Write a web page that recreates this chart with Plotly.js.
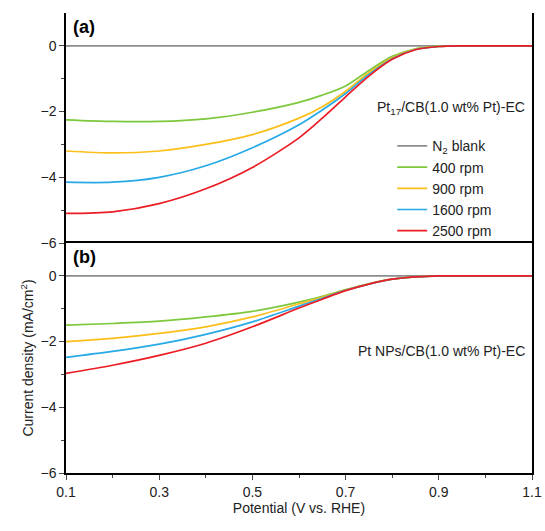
<!DOCTYPE html>
<html><head><script src="https://cdn.plot.ly/plotly-3.0.0.min.js"></script></head>
<body style="margin:0"><div id="plot" style="width:545px;height:531px"></div>
<script>
var names = ['N<sub>2</sub> blank', '400 rpm', '900 rpm', '1600 rpm', '2500 rpm'];
var colors = ['#8c8c8c', '#7dc83c', '#fbbf1a', '#27a9e6', '#ec1c24'];
var V = [0.1, 0.2, 0.3, 0.4, 0.5, 0.6, 0.65, 0.7, 0.75, 0.8, 0.85, 0.9, 0.95, 1.0, 1.1];
var topBlank = [0, 0, 0, 0, 0, 0, 0, 0, 0, 0, 0, 0, 0, 0, 0];
var top400 = [-2.25, -2.3, -2.3, -2.22, -2.02, -1.72, -1.5, -1.22, -0.75, -0.32, -0.09, -0.01, 0, 0, 0];
var top900 = [-3.2, -3.26, -3.2, -3.0, -2.7, -2.2, -1.85, -1.38, -0.82, -0.36, -0.1, -0.02, 0, 0, 0];
var top1600 = [-4.15, -4.15, -4.0, -3.65, -3.1, -2.4, -1.95, -1.45, -0.87, -0.39, -0.11, -0.02, 0, 0, 0];
var top2500 = [-5.1, -5.05, -4.8, -4.35, -3.7, -2.8, -2.2, -1.55, -0.92, -0.41, -0.12, -0.02, 0, 0, 0];
var bot400 = [-1.5, -1.45, -1.38, -1.25, -1.08, -0.8, -0.62, -0.42, -0.24, -0.1, -0.03, 0, 0, 0, 0];
var bot900 = [-2.0, -1.9, -1.75, -1.55, -1.25, -0.85, -0.65, -0.43, -0.24, -0.1, -0.03, 0, 0, 0, 0];
var bot1600 = [-2.48, -2.3, -2.08, -1.78, -1.4, -0.92, -0.68, -0.44, -0.25, -0.1, -0.03, 0, 0, 0, 0];
var bot2500 = [-2.97, -2.72, -2.42, -2.05, -1.55, -0.98, -0.71, -0.45, -0.25, -0.1, -0.03, 0, 0, 0, 0];

var topSets = [topBlank, top400, top900, top1600, top2500];
var botSets = [topBlank, bot400, bot900, bot1600, bot2500];
var data = [];
topSets.forEach(function (y, i) {
  data.push({x: V, y: y, type: 'scatter', mode: 'lines', name: names[i], line: {color: colors[i], width: 1.7, shape: 'spline', smoothing: 0.8}, xaxis: 'x', yaxis: 'y'});
});
botSets.forEach(function (y, i) {
  data.push({x: V, y: y, type: 'scatter', mode: 'lines', showlegend: false, line: {color: colors[i], width: 1.7, shape: 'spline', smoothing: 0.8}, xaxis: 'x', yaxis: 'y2'});
});

var yax = {range: [-6, 1], tickvals: [0, -2, -4, -6], ticktext: ['0', '\u22122', '\u22124', '\u22126'], ticks: 'outside', ticklen: 5, showgrid: false, zeroline: false, showline: true, linewidth: 1.5, linecolor: '#000', mirror: true, minor: {tickvals: [-1, -3, -5], ticks: 'outside', ticklen: 3}};
var layout = {
  margin: {l: 66, r: 13, t: 13, b: 58},
  font: {family: 'Arial, Liberation Sans', size: 14, color: '#222'},
  paper_bgcolor: '#fff', plot_bgcolor: '#fff',
  xaxis: {range: [0.1, 1.1], tickvals: [0.1, 0.3, 0.5, 0.7, 0.9, 1.1], ticks: 'outside', ticklen: 5, showgrid: false, zeroline: false, showline: true, linewidth: 1.5, linecolor: '#000', mirror: true, anchor: 'y2', minor: {tickvals: [0.2, 0.4, 0.6, 0.8, 1.0], ticks: 'outside', ticklen: 3},
    title: {text: 'Potential (V vs. RHE)', standoff: 4, font: {size: 14}}},
  yaxis: Object.assign({domain: [0.5, 1]}, yax),
  yaxis2: Object.assign({domain: [0, 0.5], title: {text: 'Current density (mA/cm<sup>2</sup>)', standoff: 4, font: {size: 14}}}, yax),
  legend: {x: 0.7, y: 0.745, xanchor: 'left', yanchor: 'top', bgcolor: 'rgba(0,0,0,0)', font: {size: 14}, tracegroupgap: 0},
  annotations: [
    {text: '<b>(a)</b>', x: 0.01, y: 0.995, xref: 'paper', yref: 'paper', xanchor: 'left', yanchor: 'top', showarrow: false, font: {size: 18, color: '#000'}},
    {text: '<b>(b)</b>', x: 0.01, y: 0.495, xref: 'paper', yref: 'paper', xanchor: 'left', yanchor: 'top', showarrow: false, font: {size: 18, color: '#000'}},
    {text: 'Pt<sub>17</sub>/CB(1.0 wt% Pt)-EC', x: 0.99, y: -1.9, xref: 'paper', yref: 'y', xanchor: 'right', showarrow: false, font: {size: 14}},
    {text: 'Pt NPs/CB(1.0 wt% Pt)-EC', x: 0.99, y: -2.3, xref: 'paper', yref: 'y2', xanchor: 'right', showarrow: false, font: {size: 14}}
  ]
};
Plotly.newPlot('plot', data, layout, {displayModeBar: false});
</script></body></html>
